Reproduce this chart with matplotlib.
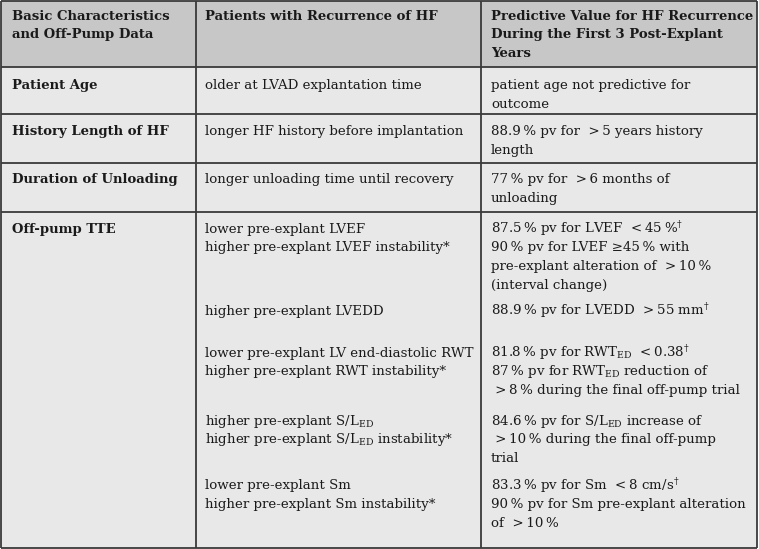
import matplotlib
matplotlib.use("Agg")
import matplotlib.pyplot as plt

plt.rcParams['font.family'] = ['DejaVu Serif']
plt.rcParams['mathtext.fontset'] = 'dejavuserif'

T = "\u2009"  # thin space used around % signs

headers = ["Basic Characteristics\nand Off-Pump Data",
           "Patients with Recurrence of HF",
           "Predictive Value for HF Recurrence\nDuring the First 3 Post-Explant\nYears"]

row_labels = ["Patient Age", "History Length of HF", "Duration of Unloading", "Off-pump TTE"]

# column 2 / column 3 text, one entry per block
recurrence = [
    "older at LVAD explantation time",
    "longer HF history before implantation",
    "longer unloading time until recovery",
    "lower pre-explant LVEF\nhigher pre-explant LVEF instability*",
    "higher pre-explant LVEDD",
    "lower pre-explant LV end-diastolic RWT\nhigher pre-explant RWT instability*",
    r"higher pre-explant S/L$_{\rm ED}$" + "\n" + r"higher pre-explant S/L$_{\rm ED}$ instability*",
    "lower pre-explant Sm\nhigher pre-explant Sm instability*",
]
predictive = [
    "patient age not predictive for\noutcome",
    f"88.9{T}% pv for  >{T}5 years history\nlength",
    f"77{T}% pv for  >{T}6 months of\nunloading",
    f"87.5{T}% pv for LVEF  <{T}45{T}%$^{{\\dagger}}$\n90{T}% pv for LVEF \u226545{T}% with\n"
    f"pre-explant alteration of  >{T}10{T}%\n(interval change)",
    f"88.9{T}% pv for LVEDD  >{T}55 mm$^{{\\dagger}}$",
    f"81.8{T}% pv for RWT$_{{\\rm ED}}$  <{T}0.38$^{{\\dagger}}$\n87{T}% pv for RWT$_{{\\rm ED}}$ reduction of\n"
    f" >{T}8{T}% during the final off-pump trial",
    f"84.6{T}% pv for S/L$_{{\\rm ED}}$ increase of\n >{T}10{T}% during the final off-pump\ntrial",
    f"83.3{T}% pv for Sm  <{T}8 cm/s$^{{\\dagger}}$\n90{T}% pv for Sm pre-explant alteration\nof  >{T}10{T}%",
]

# layout in pixels
W, H = 759, 549
col_x = [1, 196, 481, 757]
row_y = [1, 67, 114, 163, 212, 548]
text_x = [12, 205, 491]
label_y = [86, 132, 180, 229]
block_y = [86, 132, 180, 229, 311, 353, 421, 486]
line_h = 18.9
fs = 9.65
fs_bold = 9.5

fig = plt.figure(figsize=(W / 100, H / 100), dpi=100)
ax = fig.add_axes([0, 0, 1, 1])
ax.set_xlim(0, W)
ax.set_ylim(H, 0)
ax.axis('off')

ax.fill_between([col_x[0], col_x[-1]], row_y[0], row_y[1], color='#c7c7c7', lw=0)
ax.fill_between([col_x[0], col_x[-1]], row_y[1], row_y[-1], color='#e8e8e8', lw=0)

lc = '#3a3a3a'
for y in row_y:
    ax.plot([col_x[0], col_x[-1]], [y, y], color=lc, lw=1.3, solid_capstyle='butt')
for x in col_x:
    ax.plot([x, x], [row_y[0], row_y[-1]], color=lc, lw=1.3, solid_capstyle='butt')


def put(x, y, s, bold=False):
    for i, line in enumerate(s.split("\n")):
        ax.text(x, y + i * line_h, line, fontsize=fs_bold if bold else fs,
                va='center', ha='left',
                fontweight='bold' if bold else 'normal', color='#1a1a1a')


for i, h in enumerate(headers):
    put(text_x[i], 16, h, bold=True)

for lab, y in zip(row_labels, label_y):
    put(text_x[0], y, lab, bold=True)

for r, p, y in zip(recurrence, predictive, block_y):
    put(text_x[1], y, r)
    put(text_x[2], y, p)

fig.savefig("out.png", dpi=100)
